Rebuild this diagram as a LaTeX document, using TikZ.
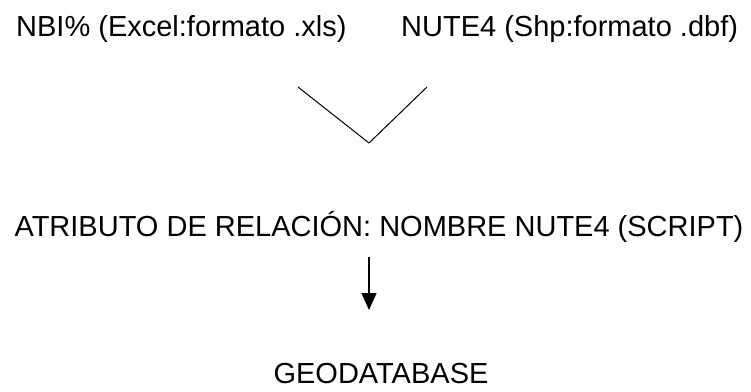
\documentclass[tikz,border=0pt]{standalone}
\usepackage{fontspec}
\setmainfont{Liberation Sans}
\usetikzlibrary{arrows.meta}
\tikzset{
    label text/.style = {
        font = \fontsize{29}{34}\selectfont,
        inner sep = 0pt,
        },
    join line/.style = {
        draw = black,
        line width = 1pt,
        },
    flow arrow/.style = {
        draw = black,
        line width = 1.6pt,
        -{Triangle[length=17pt, width=15pt]},
        },
}
\begin{document}
\begin{tikzpicture}[x=1pt,y=1pt]
            \useasboundingbox (0,0) rectangle (751,391);
            \node[label text, anchor=base west] (nbi) at (16,354) {NBI\% (Excel:formato .xls)};
            \node[label text, anchor=base west] (nute) at (401,354) {NUTE4 (Shp:formato .dbf)};
            \node[label text, anchor=base] (relacion) at (379,154) {ATRIBUTO DE RELACIÓN: NOMBRE NUTE4 (SCRIPT)};
            \node[label text, anchor=base] (geodb) at (381,8) {GEODATABASE};

            \coordinate (v left) at (298,304);
            \coordinate (v right) at (427,304);
            \coordinate (v tip) at (369,248);
            \coordinate (arrow end) at (369,81);

            \draw[join line] (v left) -- (v tip) -- (v right);
            \draw[flow arrow] (relacion.south -| v tip) ++(0,-14) -- (arrow end);
        \end{tikzpicture}
\end{document}
